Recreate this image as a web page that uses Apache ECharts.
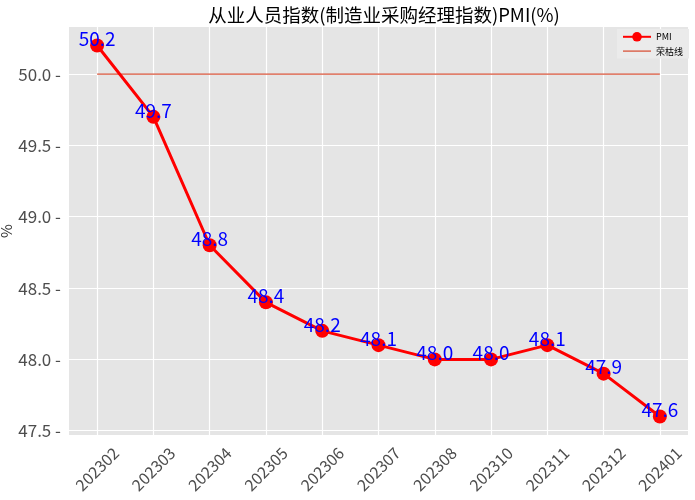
<!DOCTYPE html>
<html><head><meta charset="utf-8">
<script src="https://cdn.jsdelivr.net/npm/echarts@6/dist/echarts.min.js"></script>
<style>html,body{margin:0;padding:0;background:#fff}#c{width:695px;height:500px}</style>
</head><body><div id="c"></div>
<script>
const categories = ['202302','202303','202304','202305','202306','202307','202308','202310','202311','202312','202401'];
const pmiValues = [50.2, 49.7, 48.8, 48.4, 48.2, 48.1, 48.0, 48.0, 48.1, 47.9, 47.6];
const boomLineValue = 50;
const yGridValues = [47.5, 48.0, 48.5, 49.0, 49.5, 50.0];
const titleText = '从业人员指数(制造业采购经理指数)PMI(%)';

const font = '"Noto Sans CJK SC", sans-serif';
const chart = echarts.init(document.getElementById('c'), null, {renderer: 'canvas'});
chart.setOption({
  animation: false,
  backgroundColor: '#fff',
  title: {text: titleText, left: 379, top: 1, textAlign: 'center',
    textStyle: {fontFamily: font, fontSize: 18.5, fontWeight: 'normal', color: '#000'}},
  legend: {
    right: 6, top: 29, orient: 'vertical', itemGap: 5, itemWidth: 28, itemHeight: 12,
    backgroundColor: '#ebebeb', padding: [3, 6, 3, 5],
    textStyle: {fontFamily: font, fontSize: 9, color: '#000'},
    data: [
      {name: 'PMI'},
      {name: '荣枯线', icon: 'path://M0,0 L28,0 L28,1.3 L0,1.3 Z'}
    ]
  },
  grid: {left: 69, right: 7, top: 27, bottom: 65, show: true, backgroundColor: '#e5e5e5', borderWidth: 0,
    containLabel: false, outerBoundsMode: 'none'},
  xAxis: {
    type: 'category', data: categories, boundaryGap: true,
    axisLine: {show: false},
    axisTick: {alignWithLabel: true, length: 4, lineStyle: {color: '#333'}},
    axisLabel: {rotate: 45, fontSize: 16, color: '#4d4d4d', fontFamily: font, margin: 34, interval: 0,
      align: 'center', verticalAlign: 'middle', lineHeight: 16},
    splitLine: {show: false}
  },
  yAxis: {
    type: 'value', min: 47.47, max: 50.33,
    name: '%', nameLocation: 'middle', nameGap: 55, nameRotate: 90,
    nameTextStyle: {fontSize: 15, color: '#333', fontFamily: font},
    axisLine: {show: false},
    axisTick: {show: false},
    axisLabel: {show: false},
    splitLine: {show: false}
  },
  series: [
    {
      name: '荣枯线', type: 'line', data: categories.map(() => boomLineValue),
      symbol: 'none', z: 2,
      lineStyle: {color: '#d9553b', width: 1.3}, itemStyle: {color: '#d9553b'},
      markLine: {
        silent: true, symbol: 'none', z: 1,
        lineStyle: {color: '#ffffff', width: 1.2, type: 'solid'},
        label: {show: false},
        data: categories.map(c => ({xAxis: c})).concat(yGridValues.map(v => ({yAxis: v})))
      }
    },
    {
      name: '__ylabels', type: 'line', data: [], symbol: 'none', z: 0,
      markLine: {
        silent: true, symbol: 'none',
        lineStyle: {color: '#ffffff', width: 0},
        label: {show: true, position: 'start', distance: 8, fontSize: 17, color: '#4d4d4d', fontFamily: font,
          formatter: p => p.value.toFixed(1) + ' -'},
        data: yGridValues.map(v => ({yAxis: v}))
      }
    },
    {
      name: 'PMI', type: 'line', data: pmiValues, z: 5,
      symbol: 'circle', symbolSize: 14,
      lineStyle: {color: '#ff0000', width: 3}, itemStyle: {color: '#ff0000'},
      label: {show: true, position: 'top', distance: -10, fontSize: 19, color: '#0000ff', fontFamily: font,
        formatter: p => p.value.toFixed(1)}
    }
  ]
});
</script></body></html>
